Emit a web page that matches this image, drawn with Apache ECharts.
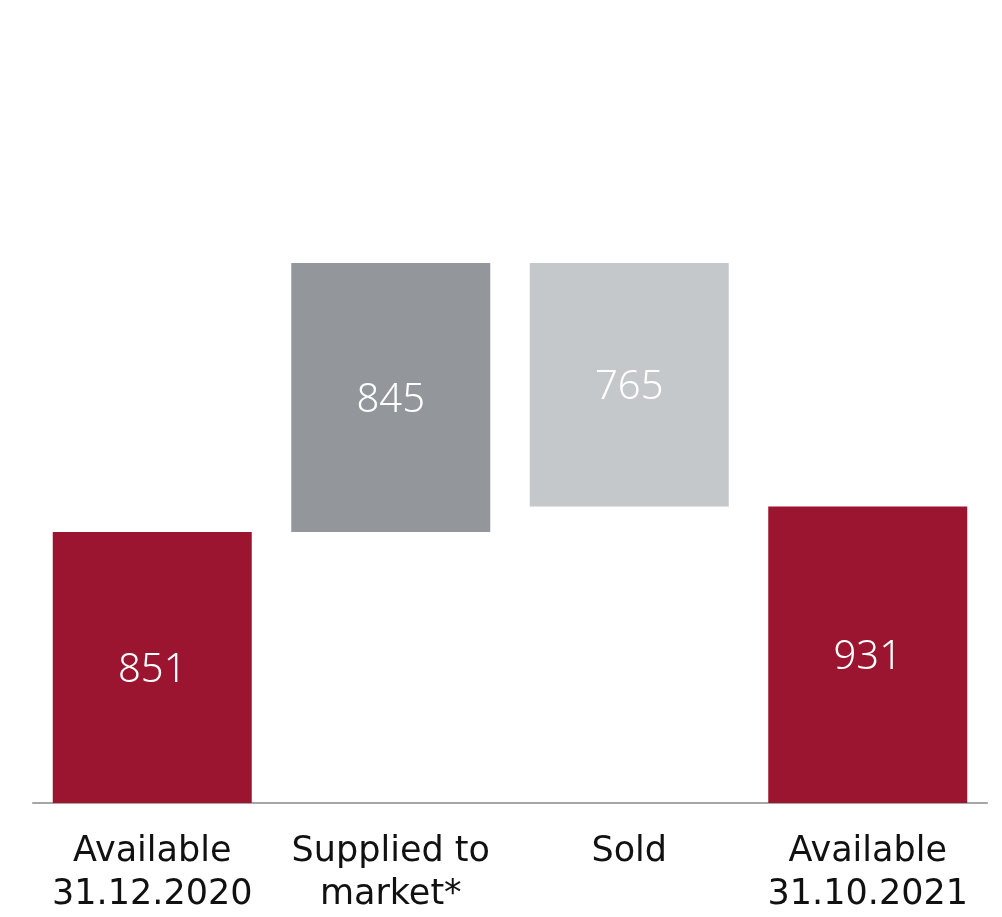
<!DOCTYPE html>
<html>
<head>
<meta charset="utf-8">
<script src="https://cdn.jsdelivr.net/npm/echarts@6/dist/echarts.min.js"></script>
<style>
  html, body { margin: 0; padding: 0; background: #ffffff; }
  #chart { width: 1002px; height: 917px; }
</style>
</head>
<body>
<div id="chart"></div>
<script>
// Inventory bridge: opening stock, units supplied, units sold, closing stock
const categories = ['Available\n31.12.2020', 'Supplied to\nmarket*', 'Sold', 'Available\n31.10.2021'];
const opening = 851;
const supplied = 845;
const sold = 765;
const closing = 931;
const barColors = ['#9B1530', '#93979B', '#C4C8CB', '#9B1530'];

// Floating bars: the invisible base lifts each step to its running level
const values = [opening, supplied, sold, closing];
const offsets = [0, opening, opening + supplied - sold, 0];

const chart = echarts.init(document.getElementById('chart'));
chart.setOption({
  animation: false,
  grid: { left: 33, right: 15, top: 7, bottom: 114 },
  xAxis: {
    type: 'category',
    data: categories,
    axisLine: { show: true, lineStyle: { color: '#A6A6A6', width: 2 } },
    axisTick: { show: false },
    axisLabel: {
      color: '#111111',
      fontFamily: 'DejaVu Sans',
      fontSize: 35,
      lineHeight: 43,
      margin: 27,
      interval: 0
    }
  },
  yAxis: {
    type: 'value',
    min: 0,
    max: 2500,
    show: false,
    splitLine: { show: false }
  },
  series: [
    {
      type: 'bar',
      stack: 'bridge',
      barWidth: 199,
      silent: true,
      itemStyle: { color: 'transparent' },
      data: offsets
    },
    {
      type: 'bar',
      stack: 'bridge',
      barWidth: 199,
      data: values.map((v, i) => ({ value: v, itemStyle: { color: barColors[i] } })),
      label: {
        show: true,
        position: 'inside',
        offset: [0, 3],
        color: '#ffffff',
        fontFamily: 'Noto Sans',
        fontWeight: 300,
        fontSize: 40,
        formatter: p => String(p.value)
      }
    }
  ]
});
</script>
</body>
</html>
